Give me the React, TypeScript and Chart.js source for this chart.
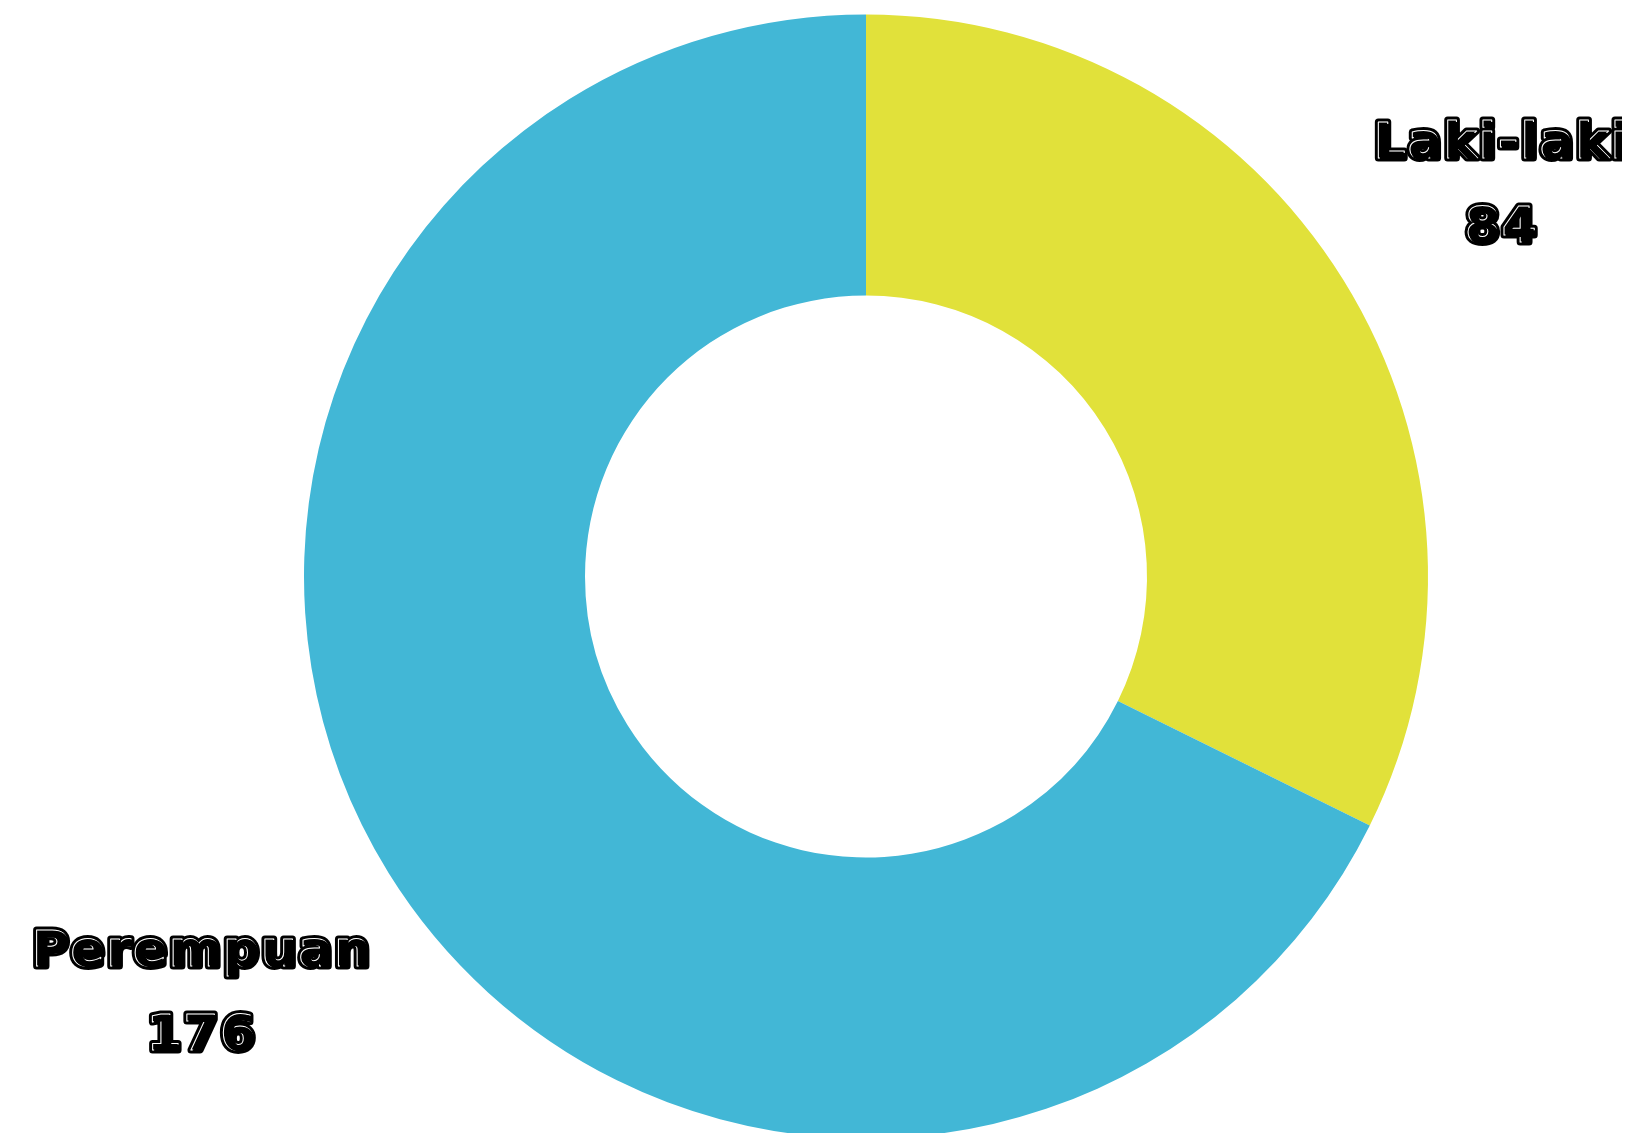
import React, { useEffect, useRef } from "react";
import { Chart, registerables } from "chart.js";

Chart.register(...registerables);

const categories = ["Laki-laki", "Perempuan"];
const values = [84, 176];
const colors = ["#E1E13A", "#42B7D6"];

const FONT_SIZE = 50;
const LINE_H = 84;
const STROKE = 7;
const LETTER_SPACING = 2;
const LABEL_OFFSET = 40;

const bubbleLabels = {
  id: "bubbleLabels",
  afterDatasetsDraw(chart: any) {
    const ctx = chart.ctx as any;
    const meta = chart.getDatasetMeta(0);
    const data = chart.data.datasets[0].data as number[];
    const labels = chart.data.labels as string[];
    ctx.save();
    ctx.font = `bold ${FONT_SIZE}px "DejaVu Sans"`;
    try {
      ctx.letterSpacing = `${LETTER_SPACING}px`;
    } catch (e) {}
    ctx.textAlign = "center";
    ctx.textBaseline = "alphabetic";
    ctx.lineJoin = "round";
    ctx.lineCap = "round";
    const capH = FONT_SIZE * 0.73;
    meta.data.forEach((arc: any, i: number) => {
      const { x, y, startAngle, endAngle, outerRadius } = arc.getProps(
        ["x", "y", "startAngle", "endAngle", "outerRadius"],
        true
      );
      const mid = (startAngle + endAngle) / 2;
      const vx = Math.cos(mid);
      const vy = Math.sin(mid);
      const lines = [String(labels[i]), String(data[i])];
      const w = Math.max(...lines.map((l) => ctx.measureText(l).width)) + STROKE;
      const h = LINE_H + capH + STROKE;
      const d = outerRadius + LABEL_OFFSET + (w / 2) * Math.abs(vx) + (h / 2) * Math.abs(vy);
      const cx = x + vx * d + LETTER_SPACING / 2;
      const cy = y + vy * d;
      lines.forEach((line, k) => {
        const by = cy + (k === 0 ? -LINE_H / 2 : LINE_H / 2) + capH / 2;
        ctx.strokeStyle = "#000";
        ctx.lineWidth = STROKE;
        ctx.strokeText(line, cx, by);
        ctx.fillStyle = "#000";
        ctx.fillText(line, cx, by);
        ctx.strokeStyle = "#fff";
        ctx.lineWidth = 1;
        ctx.strokeText(line, cx, by);
        ctx.fillStyle = "#000";
        ctx.fillText(line, cx + 1.5, by + 1.5);
      });
    });
    ctx.restore();
  },
};

export default function App() {
  const ref = useRef<HTMLCanvasElement | null>(null);
  useEffect(() => {
    if (!ref.current) return;
    const chart = new Chart(ref.current, {
      type: "doughnut",
      data: {
        labels: categories,
        datasets: [
          {
            data: values,
            backgroundColor: colors,
            borderWidth: 0,
            hoverBorderWidth: 0,
            hoverOffset: 0,
            radius: 562,
          } as any,
        ],
      },
      options: {
        animation: false,
        responsive: true,
        maintainAspectRatio: false,
        cutout: "50%",
        layout: { padding: { top: 12, left: 102, right: 0, bottom: 0 } },
        plugins: {
          legend: { display: false },
          tooltip: { enabled: false },
        },
      },
      plugins: [bubbleLabels],
    });
    return () => chart.destroy();
  }, []);
  return (
    <div style={{ width: 1614, height: 1125, position: "relative" }}>
      <canvas ref={ref} />
    </div>
  );
}
